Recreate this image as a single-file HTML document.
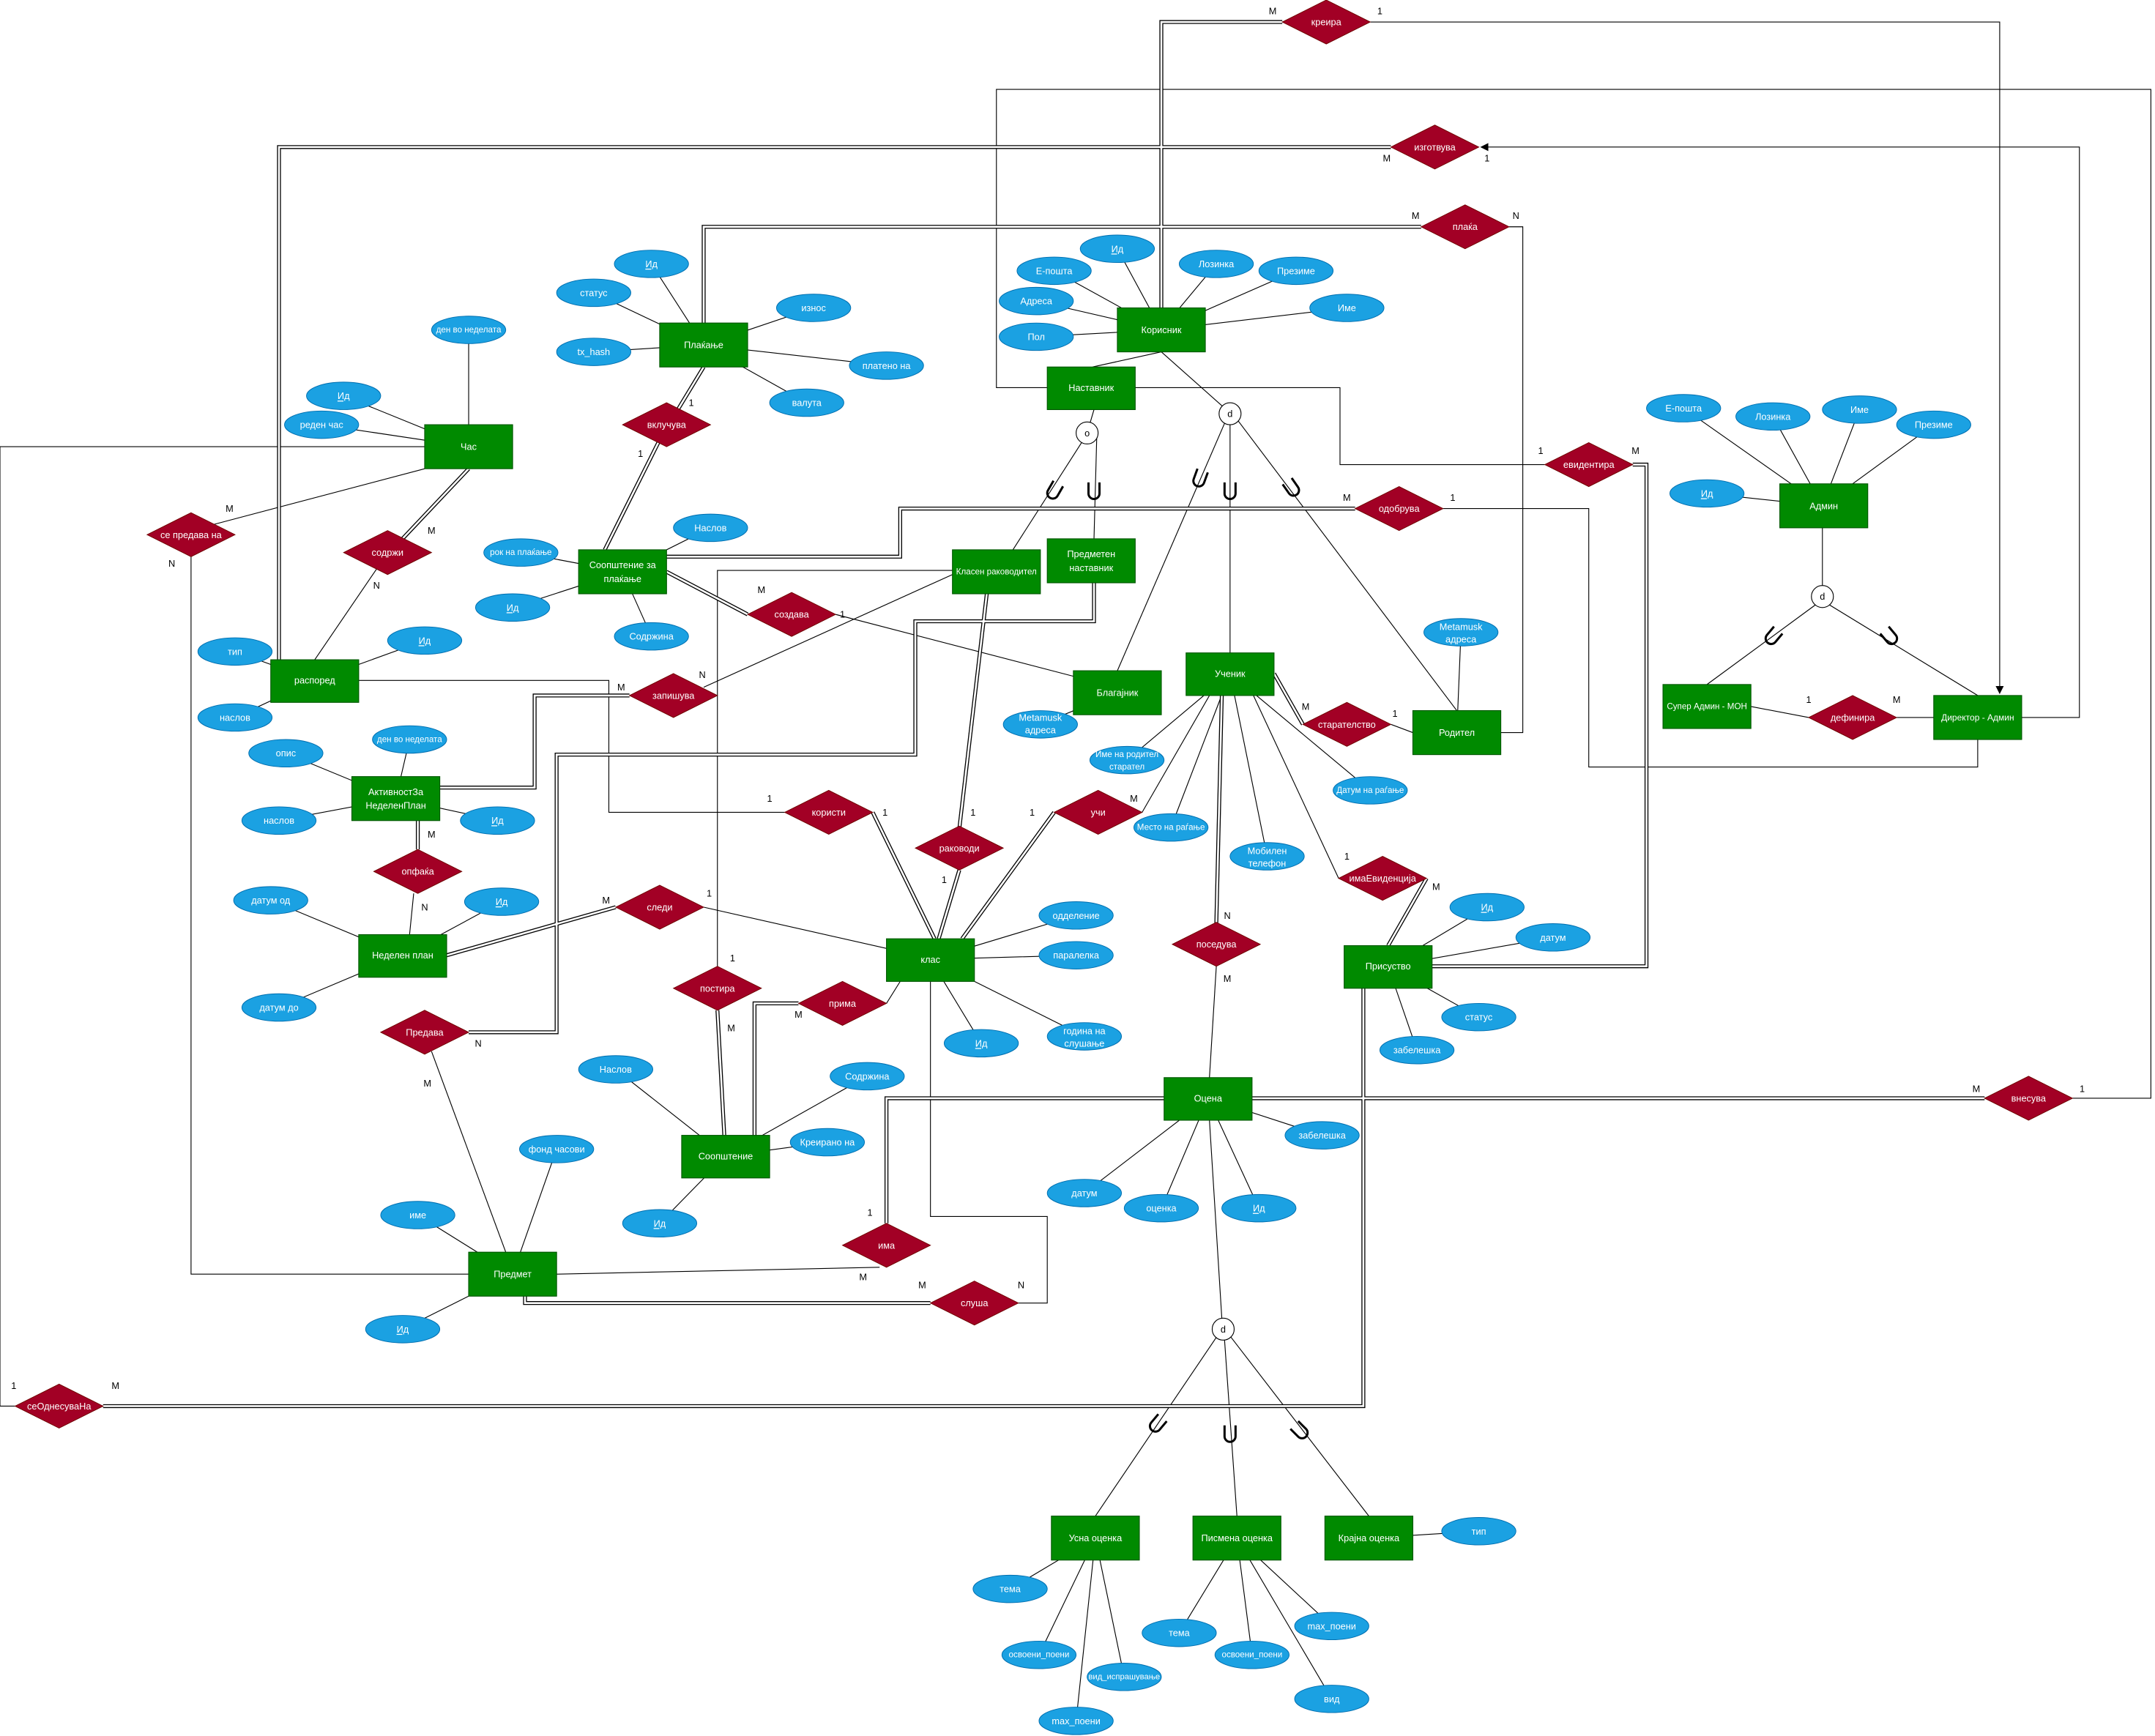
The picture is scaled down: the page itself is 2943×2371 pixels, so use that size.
<!DOCTYPE html>
<html><head><meta charset="utf-8"><style>
html,body{margin:0;padding:0;background:#fff}
svg{display:block}
.l{stroke:#000;stroke-width:.6;fill:none}
.o{stroke:#000;stroke-width:2.8;fill:none}
.i{stroke:#fff;stroke-width:1.4;fill:none}
.e rect{fill:#008a00;stroke:#005700;stroke-width:.6}
.r polygon{fill:#a20025;stroke:#6f0000;stroke-width:.5}
.a ellipse{fill:#1ba1e2;stroke:#006eaf;stroke-width:.5}
text{font-family:"Liberation Sans",sans-serif;font-size:6.8px;text-anchor:middle;dominant-baseline:central;fill:#fff}
.k text{fill:#000;font-size:6.8px}
.u{text-decoration:underline}
</style></head><body>
<svg width="2943" height="2371" viewBox="0 0 1568 1263" preserveAspectRatio="none" xmlns="http://www.w3.org/2000/svg">
<defs>
<marker id="ar" markerWidth="6" markerHeight="6" refX="5" refY="3" orient="auto" markerUnits="userSpaceOnUse"><path d="M0,0 L6,3 L0,6 z" fill="#000"/></marker>
<path id="d1" d="M845,224V16H933"/>
<path id="d2" d="M1012,107H203V480"/>
<path id="d3" d="M1034,165H512V235"/>
<path id="d4" d="M1188,338H1198V703H1042"/>
<path id="d5" d="M986,370H655V405H485"/>
<path id="d6" d="M75,1023H992V719"/>
<path id="d7" d="M341,341L290,395"/>
<path id="d8" d="M512,267L492,300"/>
<path id="d9" d="M480,320L440,400"/>
<path id="d10" d="M485,416L544,447"/>
<path id="d11" d="M458,506H389V573H320"/>
<path id="d12" d="M635,591L680,683"/>
<path id="d13" d="M796,424V452H666V549H405V751H341"/>
<path id="d14" d="M718,432L698,603"/>
<path id="d15" d="M698,633L683,683"/>
<path id="d16" d="M522,735L527,826"/>
<path id="d17" d="M581,730H549V826"/>
<path id="d18" d="M767,591L700,683"/>
<path id="d19" d="M927,490L948,527"/>
<path id="d20" d="M889,506L885,672"/>
<path id="d21" d="M1038,639L1010,688"/>
<path id="d22" d="M448,660L325,695"/>
<path id="d23" d="M304,597V618"/>
<path id="d24" d="M382,943V948H677"/>
<path id="d25" d="M1444,799H645V890"/>
</defs>
<!-- single relation lines -->
<g class="l">
<polyline points="997,16 1455,16 1455,504" marker-end="url(#ar)"/>
<polyline points="1471,522 1513,522 1513,107 1078,107" marker-end="url(#ar)"/>
<polyline points="1098,165 1108,165 1108,533 1092,533"/>
<polyline points="762,282 725,282 725,65 1565,65 1565,799 1508,799"/>
<polyline points="826,282 975,282 975,338 1124,338"/>
<polyline points="1050,370 1156,370 1156,558 1439,558 1439,538"/>
<polyline points="309,325 0,325 0,1023 11,1023"/>
<line x1="309" y1="341" x2="150" y2="383"/>
<polyline points="139,405 139,927 341,927"/>
<line x1="274" y1="414" x2="229" y2="480"/>
<line x1="608" y1="447" x2="781" y2="492"/>
<line x1="796" y1="298" x2="791" y2="315"/>
<line x1="787" y1="322" x2="737" y2="400"/>
<line x1="798" y1="318" x2="796" y2="392"/>
<line x1="512" y1="500" x2="693" y2="418"/>
<polyline points="261,495 443,495 443,591 571,591"/>
<polyline points="522,703 522,415 693,415"/>
<line x1="645" y1="730" x2="655" y2="714"/>
<line x1="831" y1="591" x2="880" y2="506"/>
<line x1="845" y1="256" x2="795" y2="267"/>
<line x1="845" y1="256" x2="890" y2="296"/>
<line x1="895" y1="309" x2="895" y2="475"/>
<line x1="891" y1="308" x2="813" y2="488"/>
<line x1="900" y1="305" x2="1060" y2="517"/>
<line x1="1012" y1="527" x2="1028" y2="533"/>
<line x1="885" y1="703" x2="880" y2="784"/>
<line x1="912" y1="506" x2="974" y2="639"/>
<line x1="512" y1="660" x2="645" y2="690"/>
<line x1="301" y1="650" x2="298" y2="680"/>
<line x1="314" y1="765" x2="368" y2="911"/>
<line x1="405" y1="927" x2="640" y2="922"/>
<polyline points="741,948 762,948 762,885 677,885 677,714"/>
<line x1="880" y1="815" x2="889" y2="959"/>
<line x1="885" y1="973" x2="797" y2="1103"/>
<line x1="891" y1="975" x2="900" y2="1103"/>
<line x1="895" y1="972" x2="996" y2="1103"/>
<line x1="1326" y1="384" x2="1326" y2="426"/>
<line x1="1321" y1="440" x2="1242" y2="498"/>
<line x1="1331" y1="440" x2="1439" y2="506"/>
<line x1="1274" y1="514" x2="1316" y2="522"/>
<line x1="1380" y1="522" x2="1407" y2="522"/>
<path d="M845,240L813,181M845,240L767,197M845,240L754,219M845,240L754,245M845,240L885,192M845,240L943,197M845,240L980,224"/>
<path d="M512,251L474,192M512,251L432,213M512,251L432,256M512,251L592,224M512,251L645,266M512,251L587,293"/>
<path d="M341,325L341,240M341,325L250,288M341,325L234,309"/>
<path d="M453,416L379,402M453,416L373,442M453,416L517,384M453,416L474,463"/>
<path d="M229,495L171,474M229,495L309,466M229,495L171,522"/>
<path d="M288,581L208,548M288,581L298,538M288,581L203,597M288,581L362,597"/>
<path d="M293,695L197,655M293,695L365,656M293,695L203,733"/>
<path d="M813,504L757,527M895,490L820,553M895,490L852,602M895,490L922,623M895,490L997,575M1060,533L1063,460"/>
<path d="M1326,368L1225,297M1326,368L1290,303M1326,368L1353,298M1326,368L1407,309M1326,368L1242,359"/>
<path d="M677,698L783,666M677,698L783,695M677,698L714,759M677,698L789,754"/>
<path d="M1010,703L1082,660M1010,703L1130,682M1010,703L1076,740M1010,703L1031,764"/>
<path d="M879,799L789,868M879,799L845,879M879,799L916,879M879,799L962,826"/>
<path d="M528,841L448,778M528,841L631,783M528,841L602,831M528,841L480,890"/>
<path d="M373,927L405,836M373,927L304,884M373,927L293,967"/>
<path d="M797,1119L735,1156M797,1119L756,1204M797,1119L818,1220M797,1119L783,1252"/>
<path d="M900,1119L858,1188M900,1119L911,1204M900,1119L969,1183M900,1119L969,1236M996,1119L1076,1114"/>
</g>
<g class="o">
<use href="#d1"/><use href="#d2"/><use href="#d3"/><use href="#d4"/><use href="#d5"/><use href="#d6"/><use href="#d7"/><use href="#d8"/><use href="#d9"/><use href="#d10"/><use href="#d11"/><use href="#d12"/><use href="#d13"/><use href="#d14"/><use href="#d15"/><use href="#d16"/><use href="#d17"/><use href="#d18"/><use href="#d19"/><use href="#d20"/><use href="#d21"/><use href="#d22"/><use href="#d23"/><use href="#d24"/><use href="#d25"/>
</g>
<g class="i">
<use href="#d1"/><use href="#d2"/><use href="#d3"/><use href="#d4"/><use href="#d5"/><use href="#d6"/><use href="#d7"/><use href="#d8"/><use href="#d9"/><use href="#d10"/><use href="#d11"/><use href="#d12"/><use href="#d13"/><use href="#d14"/><use href="#d15"/><use href="#d16"/><use href="#d17"/><use href="#d18"/><use href="#d19"/><use href="#d20"/><use href="#d21"/><use href="#d22"/><use href="#d23"/><use href="#d24"/><use href="#d25"/>
</g>
<!-- union symbols -->
<g fill="none" stroke="#000" stroke-width="1.6">
<path d="M-4,-6V2A4,4 0 0 0 4,2V-6" transform="translate(767,357) rotate(30)"/>
<path d="M-4,-6V2A4,4 0 0 0 4,2V-6" transform="translate(796,357)"/>
<path d="M-4,-6V2A4,4 0 0 0 4,2V-6" transform="translate(873,348) rotate(20)"/>
<path d="M-4,-6V2A4,4 0 0 0 4,2V-6" transform="translate(895,357)"/>
<path d="M-4,-6V2A4,4 0 0 0 4,2V-6" transform="translate(940,355) rotate(-35)"/>
<path d="M-4,-6V2A4,4 0 0 0 4,2V-6" transform="translate(1290,463) rotate(40)"/>
<path d="M-4,-6V2A4,4 0 0 0 4,2V-6" transform="translate(1375,463) rotate(-40)"/>
<path d="M-4,-6V2A4,4 0 0 0 4,2V-6" transform="translate(842,1036) rotate(40)"/>
<path d="M-4,-6V2A4,4 0 0 0 4,2V-6" transform="translate(895,1043)"/>
<path d="M-4,-6V2A4,4 0 0 0 4,2V-6" transform="translate(946,1041) rotate(-45)"/>
</g>
<g fill="#fff" stroke="#000" stroke-width=".6">
<circle cx="791" cy="315" r="8"/><circle cx="895" cy="301" r="8"/><circle cx="1326" cy="434" r="8"/><circle cx="890" cy="967" r="8"/>
</g>
<g class="k"><text x="791" y="315">o</text><text x="895" y="301">d</text><text x="1326" y="434">d</text><text x="890" y="967">d</text></g>
<g class="e">
<rect x="813" y="224" width="64" height="32"/><text x="845" y="240">Корисник</text>
<rect x="762" y="267" width="64" height="31"/><text x="794" y="282">Наставник</text>
<rect x="309" y="309" width="64" height="32"/><text x="341" y="325">Час</text>
<rect x="480" y="235" width="64" height="32"/><text x="512" y="251">Плаќање</text>
<rect x="421" y="400" width="64" height="32"/><text x="453" y="411">Соопштение за</text><text x="453" y="421">плаќање</text>
<rect x="693" y="400" width="64" height="32"/><text x="725" y="416" style="font-size:6.2px">Класен раководител</text>
<rect x="762" y="392" width="64" height="32"/><text x="794" y="403">Предметен</text><text x="794" y="413">наставник</text>
<rect x="781" y="488" width="64" height="32"/><text x="813" y="504">Благајник</text>
<rect x="863" y="475" width="64" height="31"/><text x="895" y="490">Ученик</text>
<rect x="1028" y="517" width="64" height="32"/><text x="1060" y="533">Родител</text>
<rect x="1295" y="352" width="64" height="32"/><text x="1327" y="368">Админ</text>
<rect x="1210" y="498" width="64" height="32"/><text x="1242" y="514" style="font-size:6.2px">Супер Админ - МОН</text>
<rect x="1407" y="506" width="64" height="32"/><text x="1439" y="522" style="font-size:6.4px">Директор - Админ</text>
<rect x="197" y="480" width="64" height="31"/><text x="229" y="495">распоред</text>
<rect x="256" y="565" width="64" height="32"/><text x="288" y="576">АктивностЗа</text><text x="288" y="586">НеделенПлан</text>
<rect x="261" y="680" width="64" height="31"/><text x="293" y="695">Неделен план</text>
<rect x="645" y="683" width="64" height="31"/><text x="677" y="698">клас</text>
<rect x="978" y="688" width="64" height="31"/><text x="1010" y="703">Присуство</text>
<rect x="847" y="784" width="64" height="31"/><text x="879" y="799">Оцена</text>
<rect x="496" y="826" width="64" height="31"/><text x="528" y="841">Соопштение</text>
<rect x="341" y="911" width="64" height="32"/><text x="373" y="927">Предмет</text>
<rect x="765" y="1103" width="64" height="32"/><text x="797" y="1119">Усна оценка</text>
<rect x="868" y="1103" width="64" height="32"/><text x="900" y="1119">Писмена оценка</text>
<rect x="964" y="1103" width="64" height="32"/><text x="996" y="1119">Крајна оценка</text>
</g>
<g class="r">
<polygon points="933,16 965,0 997,16 965,32"/><text x="965" y="16">креира</text>
<polygon points="1012,107 1044,91 1076,107 1044,123"/><text x="1044" y="107">изготвува</text>
<polygon points="1034,165 1066,149 1098,165 1066,181"/><text x="1066" y="165">плаќа</text>
<polygon points="453,309 485,293 517,309 485,325"/><text x="485" y="309">вклучува</text>
<polygon points="1124,338 1156,322 1188,338 1156,354"/><text x="1156" y="338">евидентира</text>
<polygon points="986,370 1018,354 1050,370 1018,386"/><text x="1018" y="370">одобрува</text>
<polygon points="107,389 139,373 171,389 139,405"/><text x="139" y="389">се предава на</text>
<polygon points="250,402 282,386 314,402 282,418"/><text x="282" y="402">содржи</text>
<polygon points="544,447 576,431 608,447 576,463"/><text x="576" y="447">создава</text>
<polygon points="458,506 490,490 522,506 490,522"/><text x="490" y="506">запишува</text>
<polygon points="948,527 980,511 1012,527 980,543"/><text x="980" y="527">старателство</text>
<polygon points="1316,522 1348,506 1380,522 1348,538"/><text x="1348" y="522">дефинира</text>
<polygon points="571,591 603,575 635,591 603,607"/><text x="603" y="591">користи</text>
<polygon points="767,591 799,575 831,591 799,607"/><text x="799" y="591">учи</text>
<polygon points="666,617 698,601 730,617 698,633"/><text x="698" y="617">раководи</text>
<polygon points="272,634 304,618 336,634 304,650"/><text x="304" y="634">опфаќа</text>
<polygon points="974,639 1006,623 1038,639 1006,655"/><text x="1006" y="639">имаЕвиденција</text>
<polygon points="448,660 480,644 512,660 480,676"/><text x="480" y="660">следи</text>
<polygon points="853,687 885,671 917,687 885,703"/><text x="885" y="687">поседува</text>
<polygon points="490,719 522,703 554,719 522,735"/><text x="522" y="719">постира</text>
<polygon points="581,730 613,714 645,730 613,746"/><text x="613" y="730">прима</text>
<polygon points="277,751 309,735 341,751 309,767"/><text x="309" y="751">Предава</text>
<polygon points="1444,799 1476,783 1508,799 1476,815"/><text x="1476" y="799">внесува</text>
<polygon points="613,906 645,890 677,906 645,922"/><text x="645" y="906">има</text>
<polygon points="677,948 709,932 741,948 709,964"/><text x="709" y="948">слуша</text>
<polygon points="11,1023 43,1007 75,1023 43,1039"/><text x="43" y="1023">сеОднесуваНа</text>
</g>
<g class="a">
<ellipse cx="813" cy="181" rx="27" ry="10"/><text x="813" y="181" class="u">Ид</text>
<ellipse cx="767" cy="197" rx="27" ry="10"/><text x="767" y="197">E-пошта</text>
<ellipse cx="754" cy="219" rx="27" ry="10"/><text x="754" y="219">Адреса</text>
<ellipse cx="754" cy="245" rx="27" ry="10"/><text x="754" y="245">Пол</text>
<ellipse cx="885" cy="192" rx="27" ry="10"/><text x="885" y="192">Лозинка</text>
<ellipse cx="943" cy="197" rx="27" ry="10"/><text x="943" y="197">Презиме</text>
<ellipse cx="980" cy="224" rx="27" ry="10"/><text x="980" y="224">Име</text>
<ellipse cx="474" cy="192" rx="27" ry="10"/><text x="474" y="192" class="u">Ид</text>
<ellipse cx="432" cy="213" rx="27" ry="10"/><text x="432" y="213">статус</text>
<ellipse cx="432" cy="256" rx="27" ry="10"/><text x="432" y="256">tx_hash</text>
<ellipse cx="592" cy="224" rx="27" ry="10"/><text x="592" y="224">износ</text>
<ellipse cx="645" cy="266" rx="27" ry="10"/><text x="645" y="266">платено на</text>
<ellipse cx="587" cy="293" rx="27" ry="10"/><text x="587" y="293">валута</text>
<ellipse cx="341" cy="240" rx="27" ry="10"/><text x="341" y="240" style="font-size:6.2px">ден во неделата</text>
<ellipse cx="250" cy="288" rx="27" ry="10"/><text x="250" y="288" class="u">Ид</text>
<ellipse cx="234" cy="309" rx="27" ry="10"/><text x="234" y="309">реден час</text>
<ellipse cx="379" cy="402" rx="27" ry="10"/><text x="379" y="402" style="font-size:6.2px">рок на плаќање</text>
<ellipse cx="373" cy="442" rx="27" ry="10"/><text x="373" y="442" class="u">Ид</text>
<ellipse cx="517" cy="384" rx="27" ry="10"/><text x="517" y="384">Наслов</text>
<ellipse cx="474" cy="463" rx="27" ry="10"/><text x="474" y="463">Содржина</text>
<ellipse cx="171" cy="474" rx="27" ry="10"/><text x="171" y="474">тип</text>
<ellipse cx="309" cy="466" rx="27" ry="10"/><text x="309" y="466" class="u">Ид</text>
<ellipse cx="171" cy="522" rx="27" ry="10"/><text x="171" y="522">наслов</text>
<ellipse cx="208" cy="548" rx="27" ry="10"/><text x="208" y="548">опис</text>
<ellipse cx="298" cy="538" rx="27" ry="10"/><text x="298" y="538" style="font-size:6.2px">ден во неделата</text>
<ellipse cx="203" cy="597" rx="27" ry="10"/><text x="203" y="597">наслов</text>
<ellipse cx="362" cy="597" rx="27" ry="10"/><text x="362" y="597" class="u">Ид</text>
<ellipse cx="197" cy="655" rx="27" ry="10"/><text x="197" y="655">датум од</text>
<ellipse cx="365" cy="656" rx="27" ry="10"/><text x="365" y="656" class="u">Ид</text>
<ellipse cx="203" cy="733" rx="27" ry="10"/><text x="203" y="733">датум до</text>
<ellipse cx="757" cy="527" rx="27" ry="10"/><text x="757" y="522">Metamusk</text><text x="757" y="531">адреса</text>
<ellipse cx="820" cy="553" rx="27" ry="10"/><text x="820" y="549" style="font-size:6.2px">Име на родител</text><text x="820" y="558" style="font-size:6.2px">старател</text>
<ellipse cx="852" cy="602" rx="27" ry="10"/><text x="852" y="602" style="font-size:6.2px">Место на раѓање</text>
<ellipse cx="922" cy="623" rx="27" ry="10"/><text x="922" y="619">Мобилен</text><text x="922" y="628">телефон</text>
<ellipse cx="997" cy="575" rx="27" ry="10"/><text x="997" y="575" style="font-size:6.2px">Датум на раѓање</text>
<ellipse cx="1063" cy="460" rx="27" ry="10"/><text x="1063" y="456">Metamusk</text><text x="1063" y="465">адреса</text>
<ellipse cx="1225" cy="297" rx="27" ry="10"/><text x="1225" y="297">E-пошта</text>
<ellipse cx="1290" cy="303" rx="27" ry="10"/><text x="1290" y="303">Лозинка</text>
<ellipse cx="1353" cy="298" rx="27" ry="10"/><text x="1353" y="298">Име</text>
<ellipse cx="1407" cy="309" rx="27" ry="10"/><text x="1407" y="309">Презиме</text>
<ellipse cx="1242" cy="359" rx="27" ry="10"/><text x="1242" y="359" class="u">Ид</text>
<ellipse cx="783" cy="666" rx="27" ry="10"/><text x="783" y="666">одделение</text>
<ellipse cx="783" cy="695" rx="27" ry="10"/><text x="783" y="695">паралелка</text>
<ellipse cx="714" cy="759" rx="27" ry="10"/><text x="714" y="759" class="u">Ид</text>
<ellipse cx="789" cy="754" rx="27" ry="10"/><text x="789" y="750">година на</text><text x="789" y="759">слушање</text>
<ellipse cx="1082" cy="660" rx="27" ry="10"/><text x="1082" y="660" class="u">Ид</text>
<ellipse cx="1130" cy="682" rx="27" ry="10"/><text x="1130" y="682">датум</text>
<ellipse cx="1076" cy="740" rx="27" ry="10"/><text x="1076" y="740">статус</text>
<ellipse cx="1031" cy="764" rx="27" ry="10"/><text x="1031" y="764">забелешка</text>
<ellipse cx="789" cy="868" rx="27" ry="10"/><text x="789" y="868">датум</text>
<ellipse cx="845" cy="879" rx="27" ry="10"/><text x="845" y="879">оценка</text>
<ellipse cx="916" cy="879" rx="27" ry="10"/><text x="916" y="879" class="u">Ид</text>
<ellipse cx="962" cy="826" rx="27" ry="10"/><text x="962" y="826">забелешка</text>
<ellipse cx="448" cy="778" rx="27" ry="10"/><text x="448" y="778">Наслов</text>
<ellipse cx="631" cy="783" rx="27" ry="10"/><text x="631" y="783">Содржина</text>
<ellipse cx="602" cy="831" rx="27" ry="10"/><text x="602" y="831">Креирано на</text>
<ellipse cx="480" cy="890" rx="27" ry="10"/><text x="480" y="890" class="u">Ид</text>
<ellipse cx="405" cy="836" rx="27" ry="10"/><text x="405" y="836">фонд часови</text>
<ellipse cx="304" cy="884" rx="27" ry="10"/><text x="304" y="884">име</text>
<ellipse cx="293" cy="967" rx="27" ry="10"/><text x="293" y="967" class="u">Ид</text>
<ellipse cx="735" cy="1156" rx="27" ry="10"/><text x="735" y="1156">тема</text>
<ellipse cx="756" cy="1204" rx="27" ry="10"/><text x="756" y="1204" style="font-size:6.2px">освоени_поени</text>
<ellipse cx="818" cy="1220" rx="27" ry="10"/><text x="818" y="1220" style="font-size:6px">вид_испрашување</text>
<ellipse cx="783" cy="1252" rx="27" ry="10"/><text x="783" y="1252">max_поени</text>
<ellipse cx="858" cy="1188" rx="27" ry="10"/><text x="858" y="1188">тема</text>
<ellipse cx="911" cy="1204" rx="27" ry="10"/><text x="911" y="1204" style="font-size:6.2px">освоени_поени</text>
<ellipse cx="969" cy="1183" rx="27" ry="10"/><text x="969" y="1183">max_поени</text>
<ellipse cx="969" cy="1236" rx="27" ry="10"/><text x="969" y="1236">вид</text>
<ellipse cx="1076" cy="1114" rx="27" ry="10"/><text x="1076" y="1114">тип</text>
</g>
<g class="k">
<text x="926" y="8">M</text><text x="1004" y="8">1</text>
<text x="1009" y="115">M</text><text x="1082" y="115">1</text>
<text x="1030" y="157">M</text><text x="1103" y="157">N</text>
<text x="503" y="293">1</text><text x="466" y="330">1</text>
<text x="1121" y="328">1</text><text x="1190" y="328">M</text>
<text x="980" y="362">M</text><text x="1057" y="362">1</text>
<text x="167" y="370">M</text><text x="125" y="410">N</text>
<text x="314" y="386">M</text><text x="274" y="426">N</text>
<text x="554" y="429">M</text><text x="613" y="447">1</text>
<text x="452" y="500">M</text><text x="511" y="491">N</text>
<text x="950" y="514">M</text><text x="1015" y="519">1</text>
<text x="1316" y="509">1</text><text x="1380" y="509">M</text>
<text x="560" y="581">1</text><text x="644" y="591">1</text>
<text x="751" y="591">1</text><text x="825" y="581">M</text>
<text x="708" y="591">1</text><text x="687" y="640">1</text>
<text x="314" y="607">M</text><text x="309" y="660">N</text>
<text x="980" y="623">1</text><text x="1045" y="645">M</text>
<text x="441" y="655">M</text><text x="516" y="650">1</text>
<text x="893" y="666">N</text><text x="893" y="712">M</text>
<text x="533" y="697">1</text><text x="532" y="748">M</text>
<text x="581" y="738">M</text>
<text x="348" y="759">N</text><text x="311" y="788">M</text>
<text x="1438" y="792">M</text><text x="1515" y="792">1</text>
<text x="633" y="882">1</text><text x="628" y="929">M</text>
<text x="671" y="935">M</text><text x="743" y="935">N</text>
<text x="10" y="1008">1</text><text x="84" y="1008">M</text>
</g>
</svg>
</body></html>
